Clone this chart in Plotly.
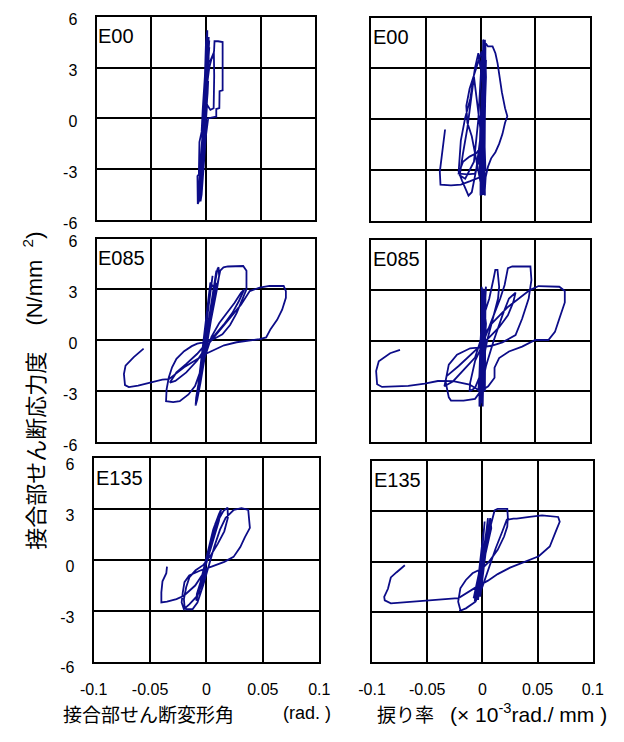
import plotly.graph_objects as go

# ---------------- data ----------------
x_tick_vals = [-0.1, -0.05, 0, 0.05, 0.1]
x_tick_text = ["-0.1", "-0.05", "0", "0.05", "0.1"]
y_tick_vals = [-6, -3, 0, 3, 6]
y_tick_text = ["-6", "-3", "0", "3", "6"]
specimens = ["E00", "E085", "E135"]

# E00 : shear deformation angle (rad.) vs. joint shear stress (N/mm2)
e00_shear_x = [0, 0.001, 0.002, 0.0015, -0.001, -0.003, -0.0035, -0.003, -0.001, 0.001, 0.002, 0.0025,
               0.002, 0.0, -0.002, -0.004, -0.005, -0.0045, -0.002, 0.0, 0.002, 0.003, 0.002, 0.0,
               -0.003, -0.005, -0.006, -0.0055, -0.003, 0.0, 0.001, 0.0012, 0.0, -0.001, -0.003, -0.004,
               -0.006, -0.0065, -0.0065, -0.0078, -0.0078, -0.0075, -0.006, -0.0045, -0.003, -0.001, 0.001,
               0.003, 0.005, 0.0068, 0.0074, 0.0078, 0.011, 0.0152, 0.0152, 0.0152, 0.0124, 0.0122, 0.0094,
               0.0094, 0.005, 0.002, 0.0, -0.002, -0.004, -0.005, -0.004, -0.002, 0.0, 0.001, 0.002,
               0.004, 0.0072, 0.0075, 0.007, 0.004, 0.001, -0.001, -0.003, -0.004,
               0.0, -0.002, -0.0045, -0.0035, -0.001, 0.001, 0.0025, 0.0015, -0.0015, -0.004, -0.0065,
               -0.005, -0.002, 0.0, 0.002, 0.0005, -0.002, -0.005, -0.007, -0.006, -0.003, 0.0, 0.0015,
               0.003, 0.001, -0.002, -0.0055, -0.004]
e00_shear_y = [0, 1.2, 2.2, 1.5, -0.5, -2.0, -2.6, -2.0, 0.2, 2.0, 3.0, 3.6,
               3.0, 0.5, -1.5, -3.0, -3.8, -3.0, -0.5, 1.5, 3.5, 4.2, 3.6, 1.0,
               -1.5, -3.2, -4.3, -3.5, -1.0, 2.0, 4.0, 5.2, 4.5, 2.5, 0.5, -0.8,
               -1.4, -2.5, -3.3, -3.4, -4.6, -5.05, -4.8, -3.5, -1.5, 0.5, 2.0,
               3.0, 3.5, 3.7, 4.0, 4.55, 4.55, 4.5, 3.5, 1.65, 1.6, 0.6, 0.55,
               0.1, 0.05, 0.0, -1.0, -3.0, -4.5, -4.9, -4.2, -2.0, 0.3, 1.5, 3.3,
               3.4, 3.9, 2.5, 0.6, 0.5, 0.8, -1.0, -2.5, -3.3,
               0.0, -2.5, -4.6, -4.0, -1.0, 2.5, 4.8, 4.0, -0.5, -3.5, -4.9,
               -4.5, -1.0, 1.5, 4.5, 3.5, 0.0, -2.5, -4.7, -4.4, -1.8, 1.2, 3.2,
               4.6, 3.0, -0.5, -4.2, -3.0]

# E00 : twist rate (x10^-3 rad./mm) vs. joint shear stress
e00_twist_x = [0, 0.002, 0.003, 0.002, 0.0, -0.001, 0.0, 0.001, 0.003, 0.004, 0.004, 0.003,
               0.001, 0.0, 0.0, 0.002, 0.003, 0.005, 0.004, 0.0025, 0.0, -0.002, -0.005, -0.0094,
               -0.014, -0.018, -0.02, -0.017, -0.011, -0.008, -0.004, 0.0, 0.002, 0.0024, 0.0068,
               0.011, 0.0136, 0.0156, 0.017, 0.0195, 0.0224, 0.0245, 0.0224, 0.02, 0.017, 0.0136,
               0.0097, 0.0068, 0.0047, 0.0038, 0.002, -0.002, -0.008, -0.012, -0.013, -0.01, -0.006,
               -0.003, 0.001, 0.003, 0.004, 0.002, -0.004, -0.01, -0.016, -0.02, -0.012, -0.005,
               0.0, 0.003,
               0.003, 0.0035, 0.0045, 0.002, 0.005, 0.001, 0.0025, 0.004, 0.0015, 0.0045,
               -0.006, -0.012, -0.016, -0.019, -0.014, -0.006, -0.002, 0.001, 0.0035, 0.002,
               0.0045, 0.003,
               0.001, -0.002, -0.0094, -0.018, -0.027, -0.0366, -0.0372, -0.0354,
               -0.0336, -0.0324]
e00_twist_y = [0, 2.0, 3.5, 2.5, 0, -2.5, -3.5, -2.0, 1.5, 3.8, 4.5, 3.0,
               -1.0, -3.0, -4.5, -4.0, -1.0, 2.5, 4.7, 4.2, 3.0, 3.9, 3.05, 1.2,
               0.1, -1.26, -3.1, -3.6, -4.5, -4.3, -3.0, -1.0, 2.0, 4.7, 4.3,
               4.3, 3.9, 3.3, 2.6, 1.6, 0.66, 0.18, -0.2, -0.87, -1.45, -1.94,
               -2.3, -2.8, -3.4, -4.3, -4.4, -3.0, -1.0, -0.2, 0.8, 1.8, 2.6,
               3.3, 4.0, 3.5, 1.0, -1.5, -2.0, -2.2, -2.5, -3.2, -3.25, -3.2,
               -2.0, 0.5,
               4.6, -4.4, 4.5, -4.3, 3.5, -4.0, 4.2, -4.5, 3.0, -3.0,
               2.5, -0.5, -2.0, -3.3, -3.5, -2.5, 0.0, 3.5, 4.4, -4.2,
               2.0, -3.4,
               -3.45, -3.45, -3.65, -3.85, -3.9, -3.85, -3.1, -2.2,
               -1.06, -0.6]

# E085 : shear deformation angle
e085_shear_x = [0, 0.003, 0.006, 0.005, 0.0, -0.004, -0.007, -0.006, 0.0, 0.004, 0.008, 0.009,
                0.007, 0.002, -0.003, -0.008, -0.009, -0.007, -0.002, 0.003, 0.008, 0.0105, 0.0115,
                0.012, 0.01, 0.004, 0.0, -0.005, -0.009, -0.0095, -0.008, -0.005, 0.0, 0.005, 0.009,
                0.004, -0.009, 0.006, -0.008, 0.0095, -0.0095, 0.003, 0.009,
                0.013, 0.016, 0.02, 0.034, 0.037, 0.037, 0.033, 0.028, 0.022, 0.015, 0.008, 0.0,
                -0.008, -0.013, -0.02, -0.027, -0.031, -0.034, -0.036, -0.0365, -0.03, -0.024,
                -0.016, -0.01, -0.005, 0.0, 0.005, 0.012, 0.02, 0.026, 0.032, 0.035, 0.03, 0.024,
                0.016, 0.008, 0.0, -0.008, -0.018, -0.027, -0.033, -0.028, -0.018, -0.008, 0.0,
                0.01, 0.022, 0.032, 0.04, 0.049, 0.058, 0.071, 0.073, 0.073, 0.0696, 0.065, 0.059,
                0.055, 0.049, 0.0416, 0.028, 0.0165, 0.008, 0.0, -0.01, -0.02, -0.028, -0.034,
                -0.04, -0.051, -0.062, -0.0705, -0.074, -0.075, -0.0735, -0.066, -0.057]
e085_shear_y = [0, 1.2, 2.4, 1.8, 0.0, -1.5, -2.6, -2.0, 0.2, 1.6, 3.1, 3.4,
                2.6, 0.5, -1.2, -3.0, -3.4, -2.6, -0.5, 1.5, 3.3, 4.2, 4.3,
                3.8, 3.0, 1.0, -0.3, -2.0, -3.4, -3.85, -3.5, -2.5, -0.5, 1.5, 2.9,
                3.4, -3.7, 3.8, -3.2, 4.1, -3.8, 1.0, 2.9,
                4.1, 4.3, 4.35, 4.38, 4.1, 3.0, 2.4, 1.6, 0.9, 0.35, 0.1, -0.1,
                -0.2, -0.35, -0.65, -1.1, -1.6, -2.2, -2.9, -3.6, -3.65, -3.6,
                -3.2, -2.7, -1.8, -0.8, 0.2, 1.0, 1.7, 2.2, 2.8, 3.0, 2.3, 1.6,
                0.9, 0.3, -0.2, -0.8, -1.4, -1.9, -2.5, -2.4, -1.9, -1.2, -0.4,
                0.4, 1.3, 2.1, 2.9, 3.1, 3.2, 3.2, 2.9, 2.5, 1.8, 1.2, 0.65,
                0.16, 0.07, 0.0, -0.12, -0.3, -0.55, -0.8, -1.2, -1.6, -2.0, -2.3,
                -2.33, -2.52, -2.68, -2.77, -2.65, -2.0, -1.5, -1.0, -0.5]

# E085 : twist rate
e085_twist_x = [0, 0.002, 0.003, 0.002, 0.0, -0.001, -0.002, 0.0, 0.002, 0.004, 0.005, 0.003,
                0.001, -0.001, -0.001, 0.001, 0.003, 0.005,
                0.001, 0.0, 0.003, 0.002, 0.004, -0.001, 0.002, 0.004, 0.0045, 0.001, 0.003,
                0.008, 0.012, 0.0135, 0.0155, 0.017,
                0.016, 0.012, 0.006, 0.0, -0.005, -0.0095, -0.01, -0.005, 0.0, 0.006, 0.012, 0.018,
                0.022, 0.025, 0.029, 0.0456, 0.0465, 0.0456, 0.044, 0.038, 0.032, 0.02, 0.01, 0.0,
                -0.0095, -0.0215, -0.029, -0.032, -0.029, -0.027, -0.0155, -0.005, 0.0, 0.005,
                0.012, 0.02, 0.026, 0.032, 0.03, 0.025, 0.017, 0.008, 0.0, -0.01, -0.02, -0.031,
                -0.033, -0.025, -0.015, -0.005, 0.0, 0.01, 0.025, 0.035, 0.045, 0.053, 0.072,
                0.077, 0.077, 0.072, 0.068, 0.062, 0.05, 0.038, 0.026, 0.017, 0.0128, 0.0128,
                0.007, 0.0, -0.01, -0.025, -0.039, -0.051, -0.066, -0.09, -0.0945, -0.0954,
                -0.093, -0.0826, -0.0736]
e085_twist_y = [0, 1.5, 3.0, 2.0, 0.0, -2.0, -3.0, -2.5, -0.5, 2.0, 3.2, 2.5,
                0.5, -2.0, -3.9, -3.5, -1.0, 1.0,
                3.2, -3.6, 3.0, -3.9, 2.8, -3.2, 3.1, -3.0, 2.5, -2.5, 1.5,
                2.5, 3.7, 4.2, 4.2, 3.2,
                2.5, 1.5, 0.5, -0.5, -1.2, -2.5, -3.0, -2.8, -2.0, 0.0, 1.5, 2.5,
                3.3, 4.3, 4.4, 4.4, 3.6, 3.1, 2.5, 1.3, 0.33, -0.1, -0.3, -0.4,
                -0.45, -0.83, -1.42, -2.4, -3.36, -3.55, -3.55, -3.45, -3.0, -1.5,
                0.0, 1.5, 2.5, 2.85, 2.3, 1.5, 0.8, 0.2, -0.3, -0.9, -1.5, -2.1,
                -2.7, -2.4, -1.7, -1.0, 0.0, 1.0, 2.0, 2.5, 3.0, 3.24, 3.2,
                2.95, 2.27, 1.3, 0.52, 0.04, 0.04, -0.35, -0.64, -1.03, -1.6, -2.2,
                -2.7, -3.0, -2.6, -2.4, -2.39, -2.54, -2.68, -2.74, -2.58, -1.8,
                -1.22, -0.74, -0.54]

# E135 : shear deformation angle
e135_shear_x = [0, 0.004, 0.008, 0.007, 0.0, -0.004, -0.007, -0.006, 0.0, 0.006, 0.011, 0.013,
                0.011, 0.005, 0.0, -0.006, -0.009, -0.0085, -0.003, 0.003, 0.01, 0.015, 0.0187,
                0.019, 0.0158, 0.01, 0.004, -0.003, -0.0096, -0.015, -0.018, -0.02, -0.0195,
                -0.018, -0.0124, -0.008, -0.003, 0.002, 0.007, 0.012, 0.017, 0.0243, 0.031, 0.037,
                0.0385, 0.0385, 0.034, 0.03, 0.024, 0.0158, 0.0045, -0.005, -0.0153, -0.0195,
                -0.021, -0.022, -0.02, -0.015, -0.008, -0.003, 0.0, -0.01, -0.02, -0.0266, -0.035,
                -0.04, -0.04, -0.039, -0.0356, -0.035]
e135_shear_y = [0, 1.2, 2.2, 1.6, 0.0, -1.2, -2.0, -1.5, 0.2, 1.8, 2.7, 3.0,
                2.3, 1.0, -0.2, -1.5, -2.4, -2.0, -0.8, 0.8, 2.3, 2.9, 3.1,
                2.5, 1.7, 0.96, 0.3, -0.3, -0.6, -1.0, -1.6, -2.3, -2.7,
                -2.9, -2.9, -2.5, -1.5, -0.3, 0.8, 1.8, 2.5, 2.97, 3.07, 2.97,
                2.2, 1.9, 1.34, 0.77, 0.19, -0.1, -0.38, -0.6, -0.9, -1.3,
                -1.9, -2.5, -2.9, -2.6, -2.1, -1.2, -0.5, -1.5, -2.1, -2.3, -2.45,
                -2.5, -1.9, -1.25, -0.77, -0.38]

# E135 : twist rate
e135_twist_x = [0, 0.003, 0.005, 0.003, 0.0, -0.003, -0.005, -0.003, 0.0, 0.004, 0.007, 0.008,
                0.004, 0.0, -0.004, -0.007, -0.006, -0.002,
                0.002, -0.004, 0.005, -0.002, 0.006, -0.006, 0.001, -0.003, 0.007, -0.008, 0.0,
                0.003, 0.008, 0.011, 0.0138, 0.0225,
                0.023, 0.0225, 0.0196, 0.0138, 0.006, 0.0, -0.009, -0.015, -0.02, -0.022, -0.02,
                -0.0207, -0.015, -0.0063, 0.0, 0.006, 0.012, 0.018, 0.022, 0.028, 0.031, 0.0426,
                0.054, 0.0686, 0.07, 0.067, 0.064, 0.061, 0.051, 0.037, 0.025, 0.0138, 0.005,
                -0.005, -0.015, -0.022, -0.025, -0.041, -0.064, -0.083, -0.0885, -0.089, -0.0856,
                -0.083, -0.078, -0.0703]
e135_twist_y = [0, 1.5, 2.5, 1.8, 0.2, -1.2, -2.2, -1.8, -0.3, 1.2, 2.6, 2.0,
                0.8, -0.3, -1.5, -2.4, -1.8, -0.5,
                2.4, -2.3, 2.6, -2.1, 2.2, -2.3, 1.8, -1.5, 2.5, -2.2, 0.0,
                1.0, 2.3, 3.06, 3.16, 3.16,
                2.67, 2.1, 1.5, 0.7, 0.0, -0.4, -0.7, -1.1, -1.6, -2.4, -2.9,
                -2.96, -2.8, -2.4, -1.5, -0.3, 0.8, 1.8, 2.5, 2.57, 2.57, 2.67,
                2.77, 2.67, 2.38, 1.9, 1.4, 0.9, 0.32, -0.07, -0.36, -0.75, -1.14,
                -1.5, -1.9, -2.2, -2.2, -2.28, -2.4, -2.5, -2.32, -2.12, -1.63,
                -0.95, -0.65, -0.22]

series = [
    (e00_shear_x, e00_shear_y), (e00_twist_x, e00_twist_y),
    (e085_shear_x, e085_shear_y), (e085_twist_x, e085_twist_y),
    (e135_shear_x, e135_shear_y), (e135_twist_x, e135_twist_y),
]

# ---------------- layout geometry (pixels in the 624x742 page) ----------------
W, H = 624, 742
# (left, right, top, bottom) of each panel, row-major
boxes = [
    (86, 314, 12, 221), (372, 600, 13, 222),
    (86, 314, 240, 449), (372, 600, 241, 449),
    (83, 318, 466, 675), (373, 603, 469, 675),
]
label_shift = [3, 3, 6]   # per row: small downward offset of y tick labels

FONT = "Liberation Sans, Arial, Noto Sans CJK JP, sans-serif"
JFONT = "Noto Sans CJK JP, Liberation Sans, sans-serif"
LINE_COLOR = "#0c0c88"

fig = go.Figure()
layout = {}
for i, ((xs, ys), (l, r, t, b)) in enumerate(zip(series, boxes)):
    n = i + 1
    xa = "xaxis" if n == 1 else f"xaxis{n}"
    ya = "yaxis" if n == 1 else f"yaxis{n}"
    xref = "x" if n == 1 else f"x{n}"
    yref = "y" if n == 1 else f"y{n}"
    row, col = divmod(i, 2)
    fig.add_trace(go.Scatter(x=xs, y=ys, mode="lines", xaxis=xref, yaxis=yref,
                             line=dict(color=LINE_COLOR, width=1.8), showlegend=False,
                             hoverinfo="skip"))
    layout[xa] = dict(domain=[l / W, r / W], anchor=yref, range=[-0.1, 0.1],
                      tickvals=x_tick_vals, ticktext=x_tick_text,
                      showticklabels=(row == 2), ticks="", ticklabelstandoff=12,
                      showgrid=True, gridcolor="black", gridwidth=1.5, zeroline=False,
                      showline=True, linecolor="black", linewidth=2, mirror=True,
                      tickfont=dict(family=FONT, size=16, color="black"), fixedrange=True)
    layout[ya] = dict(domain=[1 - b / H, 1 - t / H], anchor=xref, range=[-6, 6],
                      tickvals=y_tick_vals, ticktext=y_tick_text,
                      showticklabels=(col == 0), ticks="", ticklabelstandoff=14,
                      ticklabelshift=label_shift[row],
                      showgrid=True, gridcolor="black", gridwidth=1.5, zeroline=False,
                      showline=True, linecolor="black", linewidth=2, mirror=True,
                      tickfont=dict(family=FONT, size=16, color="black"), fixedrange=True)
    fig.add_annotation(xref=f"{xref} domain", yref=f"{yref} domain", x=0.004, y=0.965,
                       xanchor="left", yanchor="top", showarrow=False,
                       text=specimens[row], bgcolor="white", borderpad=0,
                       font=dict(family=FONT, size=20, color="black"))

# axis titles
fig.add_annotation(xref="paper", yref="paper", x=20 / W, y=1 - 458 / H, textangle=-90,
                   showarrow=False, xanchor="center", yanchor="middle",
                   text="接合部せん断応力度",
                   font=dict(family=JFONT, size=22, color="black"))
fig.add_annotation(xref="paper", yref="paper", x=20 / W, y=1 - 281 / H, textangle=-90,
                   showarrow=False, xanchor="center", yanchor="middle",
                   text="(N/mm  <sup>2</sup>)",
                   font=dict(family=FONT, size=22, color="black"))
fig.add_annotation(xref="paper", yref="paper", x=140 / W, y=1 - 728 / H,
                   showarrow=False, xanchor="center", yanchor="middle",
                   text="接合部せん断変形角",
                   font=dict(family=JFONT, size=19, color="black"))
fig.add_annotation(xref="paper", yref="paper", x=305 / W, y=1 - 728 / H,
                   showarrow=False, xanchor="center", yanchor="middle",
                   text="(rad. )",
                   font=dict(family=FONT, size=18, color="black"))
fig.add_annotation(xref="paper", yref="paper", x=408 / W, y=1 - 728 / H,
                   showarrow=False, xanchor="center", yanchor="middle",
                   text="捩り率",
                   font=dict(family=JFONT, size=19, color="black"))
fig.add_annotation(xref="paper", yref="paper", x=536 / W, y=1 - 728 / H,
                   showarrow=False, xanchor="center", yanchor="middle",
                   text="(× 10<sup>-3</sup>rad./ mm )",
                   font=dict(family=FONT, size=21, color="black"))

fig.update_layout(width=W, height=H, margin=dict(l=0, r=0, t=0, b=0),
                  paper_bgcolor="white", plot_bgcolor="white", **layout)

fig.write_html("out.html")
